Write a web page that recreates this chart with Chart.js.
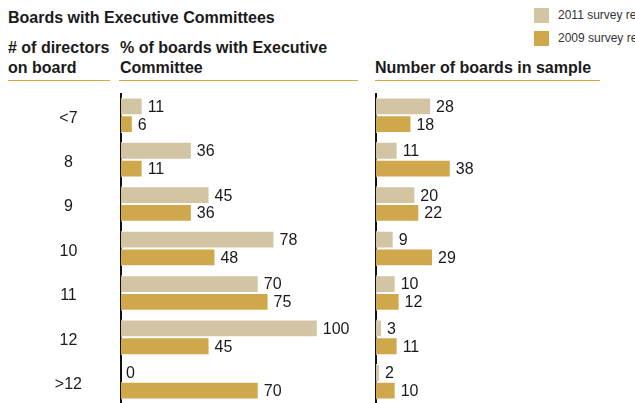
<!DOCTYPE html>
<html>
<head>
<meta charset="utf-8">
<script src="https://cdn.jsdelivr.net/npm/chart.js@4"></script>
<style>
  body { margin: 0; width: 635px; height: 403px; overflow: hidden; background: #fff;
         font-family: "Liberation Sans", Arial, Helvetica, sans-serif; color: #1a1a1a; position: relative; }
  .t { position: absolute; font-weight: bold; font-size: 16px; line-height: 20px; white-space: nowrap; }
  .rule { position: absolute; top: 80px; height: 1px; background: #d5a93f; }
  .leg { position: absolute; left: 534px; font-size: 12px; color: #333; white-space: nowrap; }
  .leg span { display: inline-block; width: 15px; height: 15px; vertical-align: middle; margin-right: 9px; }
  canvas { position: absolute; }
</style>
</head>
<body>
<div class="t" style="left:8px; top:8px;">Boards with Executive Committees</div>
<div class="t" style="left:8px; top:38px;"># of directors<br>on board</div>
<div class="t" style="left:120px; top:38px;">% of boards with Executive<br>Committee</div>
<div class="t" style="left:375px; top:58px;">Number of boards in sample</div>
<div class="rule" style="left:8px; width:102px;"></div>
<div class="rule" style="left:119px; width:239px;"></div>
<div class="rule" style="left:375px; width:225px;"></div>
<div class="leg" style="top:8px;"><span style="background:#d3c4a3"></span>2011 survey results</div>
<div class="leg" style="top:31px;"><span style="background:#cfa84c"></span>2009 survey results</div>

<canvas id="pctChart" width="365" height="311" style="left:0; top:93px;"></canvas>
<canvas id="sampleChart" width="254" height="311" style="left:366px; top:93px;"></canvas>

<script>
const categories = ['<7', '8', '9', '10', '11', '12', '>12'];
const pct2011 = [11, 36, 45, 78, 70, 100, 0];
const pct2009 = [6, 11, 36, 48, 75, 45, 70];
const boards2011 = [28, 11, 20, 9, 10, 3, 2];
const boards2009 = [18, 38, 22, 29, 12, 11, 10];

const COLOR_2011 = '#d3c4a3';
const COLOR_2009 = '#cfa84c';
const FONT = '"Liberation Sans", Arial, Helvetica, sans-serif';

// writes each bar's value just past its end
const valueLabels = {
    id: 'valueLabels',
    afterDatasetsDraw(chart) {
        const ctx = chart.ctx;
        ctx.save();
        ctx.font = '16px ' + FONT;
        ctx.fillStyle = '#1a1a1a';
        ctx.textAlign = 'left';
        ctx.textBaseline = 'middle';
        chart.data.datasets.forEach((ds, i) => {
            chart.getDatasetMeta(i).data.forEach((bar, j) => {
                ctx.fillText(String(ds.data[j]), bar.x + 5, bar.y + 1);
            });
        });
        ctx.restore();
    }
};

function makeChart(id, a, b, axisWidth, showLabels) {
    return new Chart(document.getElementById(id), {
        type: 'bar',
        data: {
            labels: categories,
            datasets: [
                { label: '2011 survey results', data: a, backgroundColor: COLOR_2011 },
                { label: '2009 survey results', data: b, backgroundColor: COLOR_2009 }
            ]
        },
        options: {
            indexAxis: 'y',
            responsive: false,
            animation: false,
            layout: { padding: 0 },
            datasets: {
                bar: {
                    barPercentage: 1,
                    categoryPercentage: 0.8,
                    borderWidth: 1,
                    borderColor: 'rgba(255,255,255,0.8)'
                }
            },
            scales: {
                x: { display: false, min: 0, max: 124 },
                y: {
                    grid: { display: false, drawTicks: false },
                    border: { display: true, color: '#111', width: 2 },
                    ticks: {
                        display: showLabels,
                        crossAlign: 'center',
                        padding: 39,
                        labelOffset: 3,
                        color: '#1a1a1a',
                        font: { size: 16, family: FONT }
                    },
                    afterFit(scale) {
                        // fixed axis width, and no vertical room taken by the labels
                        scale.width = axisWidth;
                        scale.paddingTop = 0;
                        scale.paddingBottom = 0;
                    }
                }
            },
            plugins: {
                legend: { display: false },
                tooltip: { enabled: false }
            }
        },
        plugins: [valueLabels]
    });
}

makeChart('pctChart', pct2011, pct2009, 121, true);
makeChart('sampleChart', boards2011, boards2009, 10, false);
</script>
</body>
</html>
